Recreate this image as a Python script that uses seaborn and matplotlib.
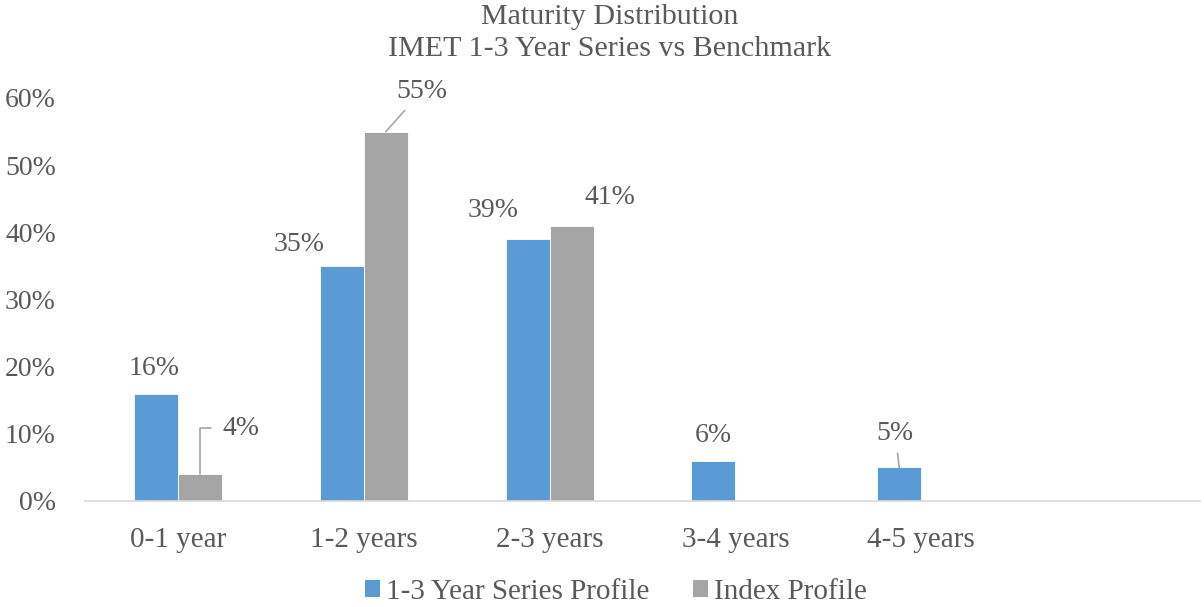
import numpy as np
import pandas as pd
import matplotlib.pyplot as plt
import seaborn as sns
from matplotlib.patches import Patch
from matplotlib.ticker import PercentFormatter

# 数据
categories = ['0-1 year', '1-2 years', '2-3 years', '3-4 years', '4-5 years']
series_profile = [16, 35, 39, 6, 5]
index_profile = [4, 55, 41, 0, 0]
series_names = ['1-3 Year Series Profile', 'Index Profile']
colors = ['#5B9BD5', '#A5A5A5']

df = pd.DataFrame({
    'Maturity': categories * 2,
    'Share': np.array(series_profile + index_profile) / 100,
    'Series': [series_names[0]] * len(categories) + [series_names[1]] * len(categories),
})

sns.set_theme(style='white')
plt.rcParams['font.family'] = ['Liberation Serif', 'DejaVu Serif']
text_color = '#595959'
line_color = '#A6A6A6'

fig = plt.figure(figsize=(12.04, 6.07), dpi=100)
ax = fig.add_axes([85 / 1204, 1 - 501 / 607, (1200 - 85) / 1204, (501 - 98) / 607])

sns.barplot(data=df, x='Maturity', y='Share', hue='Series', palette=colors,
            saturation=1, width=0.474, gap=0, linewidth=0.6, edgecolor='white',
            legend=False, ax=ax)

ax.set_xlim(-0.5, 5.5)
ax.set_ylim(0, 0.6)
ax.set_yticks(np.arange(0, 0.61, 0.1))
ax.yaxis.set_major_formatter(PercentFormatter(1.0, decimals=0))
ax.set_xlabel('')
ax.set_ylabel('')
for side in ['top', 'right', 'left']:
    ax.spines[side].set_visible(False)
ax.spines['bottom'].set_color('#D9D9D9')
ax.spines['bottom'].set_linewidth(1.2)
ax.tick_params(axis='y', length=0, pad=21, labelsize=20, labelcolor=text_color)
ax.tick_params(axis='x', length=0, pad=18.5, labelsize=21, labelcolor=text_color)
ax.grid(False)

# 数据标签偏移（像素），部分带引导线
offsets = {
    (0, 0): (-2, 25, None), (1, 0): (41, 46, 'elbow'),
    (0, 1): (-43, 21, None), (1, 1): (36, 40, 'line'),
    (0, 2): (-34, 29, None), (1, 2): (38, 28, None),
    (0, 3): (0, 25, None),
    (0, 4): (-4, 34, 'line'),
}
values = [series_profile, index_profile]
for s, container in enumerate(ax.containers):
    for c, bar in enumerate(container.patches):
        v = values[s][c]
        if v == 0:
            continue
        dx, dy, leader = offsets.get((s, c), (0, 25, None))
        xy = (bar.get_x() + bar.get_width() / 2, bar.get_height())
        arrow = None
        if leader == 'line':
            arrow = dict(arrowstyle='-', color=line_color, lw=1.2, shrinkA=3, shrinkB=0)
        elif leader == 'elbow':
            arrow = dict(arrowstyle='-', color=line_color, lw=1.2, shrinkA=6, shrinkB=0,
                         connectionstyle='angle,angleA=0,angleB=90,rad=0')
        ax.annotate(f'{v}%', xy=xy, xytext=(dx, dy), textcoords='offset pixels',
                    ha='center', va='center', fontsize=20, color=text_color,
                    arrowprops=arrow)

fig.suptitle('Maturity Distribution\nIMET 1-3 Year Series vs Benchmark',
             x=610 / 1204, y=1 - 4 / 607, va='top', fontsize=21.6,
             color=text_color, linespacing=1.28)

handles = [Patch(facecolor=col, edgecolor='none') for col in colors]
fig.legend(handles, series_names, loc='center', bbox_to_anchor=(616 / 1204, 1 - 592 / 607),
           ncol=2, frameon=False, fontsize=21, labelcolor=text_color,
           handlelength=0.52, handleheight=0.5, handletextpad=0.2, columnspacing=1.5)

fig.savefig('out.png', dpi=100)
